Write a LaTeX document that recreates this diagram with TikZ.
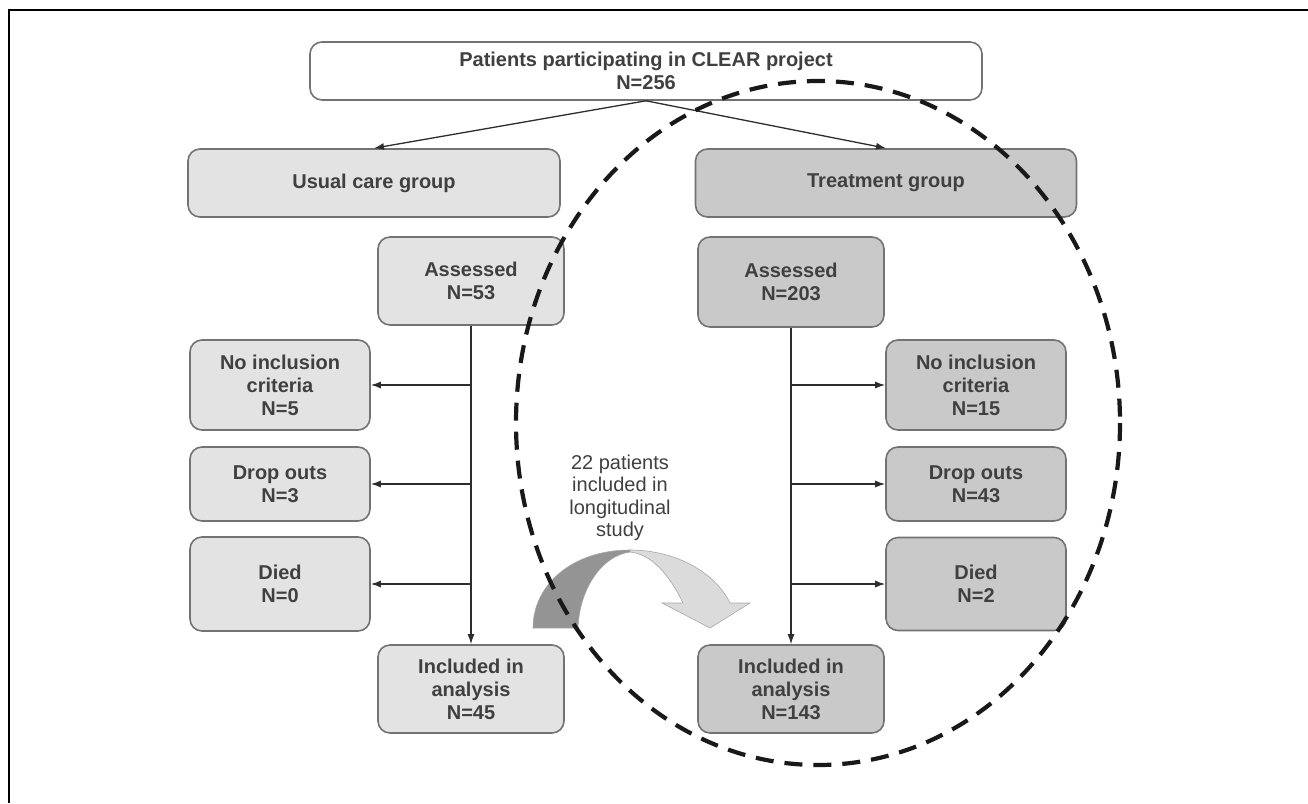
\documentclass[tikz,border=0pt]{standalone}
\usepackage{fontspec}
\setmainfont{Liberation Sans}
\usepackage{tikz}
\usetikzlibrary{arrows.meta, positioning, shapes}
\definecolor{boxline}{gray}{0.45}
\definecolor{lightfill}{gray}{0.89}
\definecolor{darkfill}{gray}{0.79}
\definecolor{textgray}{gray}{0.25}
\definecolor{bendlight}{gray}{0.86}
\definecolor{benddark}{gray}{0.58}

\begin{document}
\begin{tikzpicture}[x=1pt, y=-1pt,
	box/.style={draw=boxline, line width=1.6pt, rounded corners=12pt, align=center,
		text=textgray, inner sep=0pt, font=\fontsize{20}{23}\selectfont\bfseries},
	usualbox/.style={box, fill=lightfill},
	treatbox/.style={box, fill=darkfill},
	arr/.style={draw=gray!35!black, line width=1.3pt, -{Latex[length=10pt, width=7pt]}},
	ring/.style={draw=gray!20!black, line width=4.2pt, dash pattern=on 18pt off 11pt}
]

\useasboundingbox (0,0) rectangle (1308,803);

\def \bwide{180}
\def \bmid{186}

% frame
\draw[line width=2pt] (9,803) -- (9,10) -- (1308,10);

% top
\node[box, fill=white, minimum width=672, minimum height=58] (patients) at (646,71)
	{Patients participating in CLEAR project\\N=256};

\node[usualbox, minimum width=372, minimum height=68] (usual) at (374,183) {Usual care group};
\node[treatbox, minimum width=381, minimum height=68] (treat) at (886,183) {Treatment group};

\draw[arr] (patients.south) -- (usual.north);
\draw[arr] (patients.south) -- (treat.north);

% usual care side
\node[usualbox, minimum width=\bmid, minimum height=88] (assessU) at (471,281) {Assessed\\N=53};
\node[usualbox, minimum width=\bwide, minimum height=90] (noinclU) at (280,385) {No inclusion\\criteria\\N=5};
\node[usualbox, minimum width=\bwide, minimum height=74] (dropU) at (280,484) {Drop outs\\N=3};
\node[usualbox, minimum width=\bwide, minimum height=94] (diedU) at (280,584) {Died\\N=0};
\node[usualbox, minimum width=\bmid, minimum height=88] (inclU) at (471,689) {Included in\\analysis\\N=45};

\draw[arr] (assessU.south) -- (inclU.north);
\foreach \b in {noinclU, dropU, diedU} {
	\draw[arr] (assessU.south |- \b.east) -- (\b.east); % branch
}

% treatment side
\node[treatbox, minimum width=\bmid, minimum height=90] (assessT) at (791,282) {Assessed\\N=203};
\node[treatbox, minimum width=\bwide, minimum height=90] (noinclT) at (976,385) {No inclusion\\criteria\\N=15};
\node[treatbox, minimum width=\bwide, minimum height=74] (dropT) at (976,484) {Drop outs\\N=43};
\node[treatbox, minimum width=\bwide, minimum height=93] (diedT) at (976,584) {Died\\N=2};
\node[treatbox, minimum width=\bmid, minimum height=88] (inclT) at (791,689) {Included in\\analysis\\N=143};

\draw[arr] (assessT.south) -- (inclT.north);
\foreach \b in {noinclT, dropT, diedT} {
	\draw[arr] (assessT.south |- \b.west) -- (\b.west); % branch
}

% longitudinal
\node[align=center, text=textgray, font=\fontsize{20}{22.5}\selectfont] (longit) at (620,498)
	{22 patients\\included in\\longitudinal\\study};

% bent arrow, two faces
\filldraw[fill=benddark, draw=gray!70, line width=0.6pt] (533,628) .. controls (533,585) and (572,550) .. (630,550)
	-- (630,552) .. controls (600,556) and (579,592) .. (578,628) -- cycle;
\filldraw[fill=bendlight, draw=gray!70, line width=0.6pt] (630,550) .. controls (675,550) and (715,572) .. (730,603)
	-- (750,603) -- (710,628) -- (662,603) -- (683,603)
	.. controls (670,576) and (652,554) .. (630,552) -- cycle;

% dashed ring
\draw[ring] (818,423) ellipse [x radius=302, y radius=342];

\end{tikzpicture}
\end{document}
